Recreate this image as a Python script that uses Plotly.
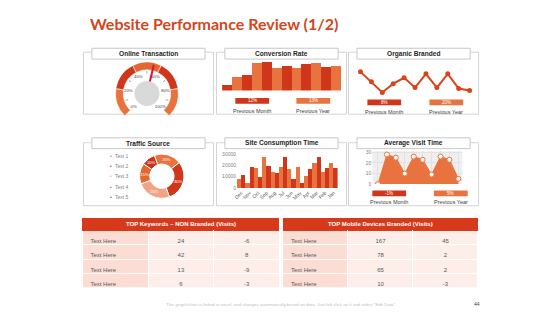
import plotly.graph_objects as go

W, H = 560, 315
def X(p): return p / W
def Y(p): return 1 - p / H

DARK = "#D0361A"
ORANGE = "#E8733E"
MID = "#E4672F"
LIGHT = "#F2A386"
TITLE_RED = "#D4461C"
HEAD_RED = "#D63A1B"
GRAY_TXT = "#595959"

# ---------------- data ----------------
title_text = "Website Performance Review (1/2)"
panel_titles = ["Online Transaction", "Conversion Rate", "Organic Branded",
                "Traffic Source", "Site Consumption Time", "Average Visit Time"]

gauge_ticks = [0, 20, 40, 60, 80, 100]
gauge_value = 55

conv_values = [6, 14, 16, 28, 29, 23, 25, 23, 27, 28, 24, 25]
conv_badges = ["12%", "13%"]

organic_values = [24, 14, 3, 12, 18, 8, 22, 8, 22, 7, 5]
organic_badges = ["8%", "20%"]

traffic_labels = ["Text 1", "Text 2", "Text 3", "Text 4", "Text 5"]
traffic_values = [20, 30, 25, 15, 10]

months = ["Dec", "Nov", "Oct", "Sep", "Aug", "Jul", "Jun", "May", "Apr", "Mar", "Feb", "Jan"]
site_a = [8500, 4400, 18000, 28000, 14700, 19000, 16800, 19000, 10900, 22000, 14400, 22000]
site_b = [11800, 19000, 9700, 19800, 13800, 27400, 8500, 4400, 16800, 28000, 18000, 18200]

visit_values = [0, 28, 25, 10, 26, 23, 9, 26, 23, 5]
visit_badges = ["-1%", "5%"]
badge_names = ["Previous Month", "Previous Year"]

kw_title = "TOP Keywords \u2013 NON Branded (Visits)"
kw_labels = ["Text Here"] * 4
kw_visits = [24, 42, 13, 6]
kw_change = [-6, 8, -9, -3]

mob_title = "TOP Mobile Devices Branded (Visits)"
mob_labels = ["Text Here"] * 4
mob_visits = [167, 78, 65, 10]
mob_change = [45, 2, 2, -3]

footer = 'This graph/chart is linked to excel, and changes automatically based on data. Just left click on it and select "Edit Data".'
page_no = "44"

# ---------------- figure ----------------
fig = go.Figure()
shapes, annos = [], []
FONT = "Liberation Sans"

def text(x, y, s, size, color, bold=False, xanchor="center", family=FONT):
    annos.append(dict(x=X(x), y=Y(y), xref="paper", yref="paper", text=f"<b>{s}</b>" if bold else s,
                      showarrow=False, xanchor=xanchor, yanchor="middle",
                      font=dict(size=size, color=color, family=family)))

def rect(x0, y0, x1, y1, fill=None, line="#D0D0D0", lw=1):
    shapes.append(dict(type="rect", xref="paper", yref="paper", x0=X(x0), x1=X(x1), y0=Y(y1), y1=Y(y0),
                       fillcolor=fill if fill else "rgba(0,0,0,0)",
                       line=dict(color=line, width=lw), layer="below"))

# panels
cols = [(80, 211), (214, 345), (347, 478)]
rows = [(51, 114, 52.5), (143, 207, 143.5)]
k = 0
for (py0, py1, hy) in rows:
    for (px0, px1) in cols:
        rect(px0, py0, px1, py1, line="#D4D4D4")
        cx = (px0 + px1) / 2
        rect(cx - 57, hy - 5.5, cx + 57, hy + 5.5, fill="white", line="#C8C8C8")
        text(cx, hy, panel_titles[k], 6.6, "#1F1F1F", bold=True)
        k += 1

# ---- gauge (polar) ----
seg_theta = [(gauge_ticks[i] + gauge_ticks[i + 1]) / 2 * 2.7 for i in range(5)]
fig.add_trace(go.Barpolar(theta=seg_theta, r=[0.25] * 5, base=[0.75] * 5, width=[54] * 5,
                          marker=dict(color=[ORANGE, DARK, MID, DARK, ORANGE], line=dict(color="white", width=0.6)),
                          hoverinfo="skip", showlegend=False))
tick_r, tick_t = [], []
for t in seg_theta:
    tick_r += [0.63, 0.71, None]
    tick_t += [t, t, None]
fig.add_trace(go.Scatterpolar(r=tick_r, theta=tick_t, mode="lines", line=dict(color="#8C8C8C", width=0.8),
                              showlegend=False, hoverinfo="skip"))
fig.add_trace(go.Scatterpolar(r=[0.6] * len(gauge_ticks), theta=[v * 2.7 for v in gauge_ticks],
                              text=[f"{v}%" for v in gauge_ticks], mode="text",
                              textfont=dict(size=4.3, color="#404040", family=FONT), showlegend=False, hoverinfo="skip"))
fig.add_trace(go.Scatterpolar(r=[0, 0.93], theta=[gauge_value * 2.7] * 2, mode="lines",
                              line=dict(color="#E0102E", width=2), showlegend=False, hoverinfo="skip"))
fig.add_trace(go.Scatterpolar(r=[0], theta=[0], mode="markers", marker=dict(size=25, color="#D9D9D9"),
                              showlegend=False, hoverinfo="skip"))

# ---- conversion bars ----
fig.add_trace(go.Bar(x=list(range(1, len(conv_values) + 1)), y=conv_values, xaxis="x", yaxis="y",
                     marker=dict(color=[DARK if i % 2 == 0 else ORANGE for i in range(len(conv_values))], line=dict(width=0)),
                     showlegend=False, hoverinfo="skip"))

# ---- organic line ----
fig.add_trace(go.Scatter(x=list(range(1, len(organic_values) + 1)), y=organic_values, xaxis="x2", yaxis="y2",
                         mode="lines+markers", line=dict(color="#D9441A", width=2),
                         marker=dict(size=5, color="#D9441A"), showlegend=False, hoverinfo="skip"))

# ---- traffic donut ----
fig.add_trace(go.Pie(labels=traffic_labels, values=traffic_values, hole=0.55, sort=False, direction="clockwise",
                     rotation=-20, domain=dict(x=[X(136.5), X(181.5)], y=[Y(199.5), Y(154.5)]),
                     marker=dict(colors=[ORANGE, DARK, LIGHT, MID, "#C9331A"], line=dict(color="white", width=1)),
                     texttemplate="%{value}%", textposition="inside", insidetextorientation="horizontal",
                     textfont=dict(size=5, color="white", family=FONT), showlegend=False, hoverinfo="skip"))
leg_colors = ["#8C8C8C", DARK, "#BFBFBF", MID, "#595959"]
for i, lab in enumerate(traffic_labels):
    yy = 156 + i * 10.5
    text(107.5, yy, "\u2022", 5, leg_colors[i])
    text(110, yy, lab, 5, "#7F7F7F", xanchor="left")

# ---- site consumption ----
fig.add_trace(go.Bar(x=months, y=site_a, xaxis="x3", yaxis="y3", marker=dict(color=ORANGE, line=dict(width=0)),
                     showlegend=False, hoverinfo="skip"))
fig.add_trace(go.Bar(x=months, y=site_b, xaxis="x3", yaxis="y3", marker=dict(color=DARK, line=dict(width=0)),
                     showlegend=False, hoverinfo="skip"))

# ---- average visit ----
fig.add_trace(go.Scatter(x=list(range(len(visit_values))), y=visit_values, xaxis="x4", yaxis="y4",
                         mode="lines+markers", fill="tozeroy", fillcolor=ORANGE,
                         line=dict(color=ORANGE, width=1),
                         marker=dict(size=5, color="white", line=dict(color=ORANGE, width=1)),
                         showlegend=False, hoverinfo="skip"))
shapes.append(dict(type="rect", xref="x4 domain", yref="y4 domain", x0=0, x1=1, y0=0, y1=1,
                   fillcolor="#EFEFEF", line=dict(width=0), layer="below"))

# badges
def badges(xs, y, vals, ly):
    for cx, v, c, nm in zip(xs, vals, [DARK, ORANGE], badge_names):
        rect(cx - 17, y - 2.9, cx + 17, y + 2.9, fill=c, line=c, lw=0)
        text(cx, y, v, 4.6, "white")
        text(cx, ly, nm, 5.5, "#404040")

badges([250, 311.5], 100.5, conv_badges, 110.5)
badges([383, 445.5], 102, organic_badges, 111.5)
badges([388, 450], 194.5, visit_badges, 203.3)

# ---- tables ----
def table(x0, x1, labels, v1, v2, title):
    fig.add_trace(go.Table(
        domain=dict(x=[X(x0), X(x1)], y=[Y(291), Y(219)]),
        columnwidth=[1, 1, 1],
        header=dict(values=["", "", ""], fill_color=HEAD_RED, line=dict(color=HEAD_RED, width=0), height=13),
        cells=dict(values=[labels, v1, v2],
                   fill_color=[["#FBDDD3"] * 4, ["#FDEEE9"] * 4, ["#FDEEE9"] * 4],
                   line=dict(color="white", width=1), align=["left", "center", "center"],
                   font=dict(size=6, color=GRAY_TXT, family=FONT), height=14.3)))
    text((x0 + x1) / 2, 225.5, title, 6, "white", bold=True)

table(79, 278, kw_labels, kw_visits, kw_change, kw_title)
table(281, 478, mob_labels, mob_visits, mob_change, mob_title)

# title & footer
text(85, 22, title_text, 16, TITLE_RED, bold=True, xanchor="left", family="Lato")
text(279, 307.3, footer, 4.4, "#BDBDBD")
text(476.5, 307.3, page_no, 5, "#404040")

hidden = dict(visible=False)
fig.update_layout(
    width=W, height=H, margin=dict(l=0, r=0, t=0, b=0),
    paper_bgcolor="white", plot_bgcolor="rgba(0,0,0,0)",
    bargap=0, bargroupgap=0, barmode="group",
    polar=dict(domain=dict(x=[X(112), X(176)], y=[Y(125), Y(61)]), bgcolor="rgba(0,0,0,0)", bargap=0,
               angularaxis=dict(rotation=225, direction="clockwise", visible=False),
               radialaxis=dict(range=[0, 1], visible=False)),
    xaxis=dict(domain=[X(219.7), X(339.7)], range=[0.5, 12.5], anchor="y", **hidden),
    yaxis=dict(domain=[Y(90), Y(60)], range=[0, 30], anchor="x", **hidden),
    xaxis2=dict(domain=[X(353), X(475)], range=[0.45, 11.55], anchor="y2", **hidden),
    yaxis2=dict(domain=[Y(95), Y(65)], range=[0, 30], anchor="x2", **hidden),
    xaxis3=dict(domain=[X(234.7), X(336)], anchor="y3", type="category", tickangle=-45, showgrid=False,
                showline=False, ticks="", tickfont=dict(size=5, color="#595959", family=FONT)),
    yaxis3=dict(domain=[Y(189), Y(152)], anchor="x3", range=[0, 32000], tickvals=[0, 10000, 20000, 30000],
                tickformat="d", showgrid=False, zeroline=False,
                tickfont=dict(size=5, color="#7F7F7F", family=FONT)),
    xaxis4=dict(domain=[X(371), X(461.7)], anchor="y4", range=[-0.63, 9.45], dtick=1, showgrid=True,
                gridcolor="#E2E2E2", showticklabels=False, zeroline=False, ticks=""),
    yaxis4=dict(domain=[Y(185), Y(151.7)], anchor="x4", range=[0, 31], tickvals=[0, 10, 20, 30], showgrid=True,
                gridcolor="#E2E2E2", zeroline=False, tickfont=dict(size=5, color="#7F7F7F", family=FONT)),
    shapes=shapes, annotations=annos,
)

fig.write_html("out.html")
